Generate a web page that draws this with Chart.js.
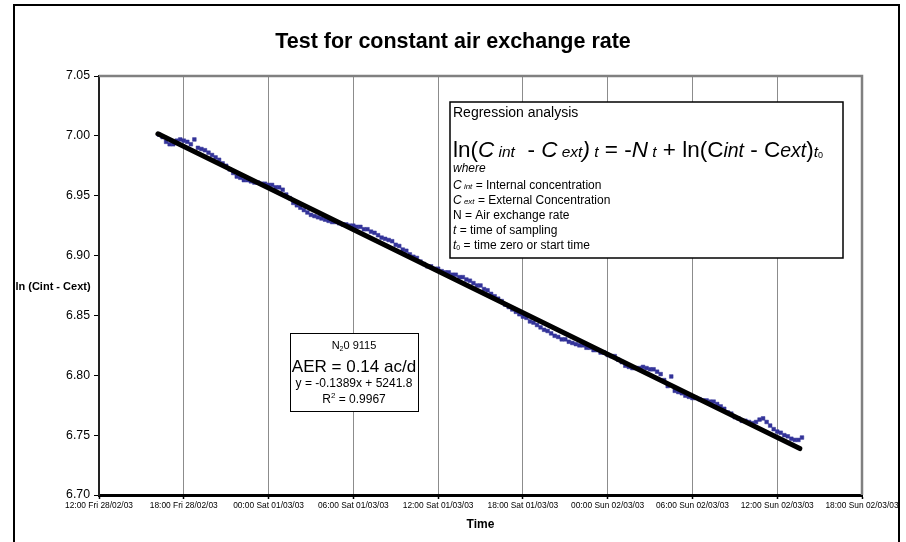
<!DOCTYPE html>
<html>
<head>
<meta charset="utf-8">
<script src="https://cdn.jsdelivr.net/npm/chart.js@4/dist/chart.umd.min.js"></script>
<style>
  html, body { margin: 0; padding: 0; background: #fff; }
  canvas { display: block; }
</style>
</head>
<body>
<canvas id="chart" width="906" height="542"></canvas>
<script>
const FONT = '"Liberation Sans", Arial, Helvetica, sans-serif';

// Time axis: hours after 12:00 Fri 28/02/03, one labelled tick every 6 hours
const xTickLabels = [
  '12:00 Fri 28/02/03', '18:00 Fri 28/02/03', '00:00 Sat 01/03/03', '06:00 Sat 01/03/03',
  '12:00 Sat 01/03/03', '18:00 Sat 01/03/03', '00:00 Sun 02/03/03', '06:00 Sun 02/03/03',
  '12:00 Sun 02/03/03', '18:00 Sun 02/03/03'
];
const xTickStepHours = 6;

// Value axis
const yMin = 6.70;
const yMax = 7.05;
const yStep = 0.05;

// Logger readings: first sample 4.25 h after the axis origin, one every 15 minutes
const sampleStartHour = 4.25;
const sampleIntervalHours = 0.25;
const lnConcentration = [
  7.001, 6.999, 6.995, 6.993, 6.993, 6.996, 6.997, 6.996, 6.995, 6.993, 6.997, 6.990,
  6.989, 6.988, 6.986, 6.984, 6.982, 6.980, 6.977, 6.975, 6.972, 6.969, 6.966, 6.965,
  6.963, 6.963, 6.962, 6.961, 6.961, 6.960, 6.960, 6.959, 6.959, 6.957, 6.957, 6.955,
  6.951, 6.948, 6.944, 6.942, 6.940, 6.938, 6.936, 6.934, 6.933, 6.932, 6.931, 6.930,
  6.929, 6.928, 6.928, 6.927, 6.926, 6.926, 6.925, 6.925, 6.924, 6.924, 6.922, 6.922,
  6.920, 6.919, 6.917, 6.915, 6.914, 6.913, 6.912, 6.909, 6.908, 6.905, 6.904, 6.901,
  6.899, 6.898, 6.895, 6.893, 6.891, 6.891, 6.889, 6.889, 6.887, 6.886, 6.886, 6.884,
  6.884, 6.882, 6.882, 6.880, 6.879, 6.877, 6.875, 6.875, 6.872, 6.871, 6.868, 6.866,
  6.864, 6.862, 6.859, 6.857, 6.855, 6.853, 6.851, 6.849, 6.848, 6.845, 6.844, 6.842,
  6.840, 6.838, 6.837, 6.835, 6.833, 6.832, 6.830, 6.830, 6.828, 6.827, 6.826, 6.825,
  6.825, 6.823, 6.823, 6.821, 6.821, 6.819, 6.819, 6.817, 6.816, 6.816, 6.813, 6.811,
  6.808, 6.807, 6.806, 6.806, 6.806, 6.807, 6.806, 6.805, 6.805, 6.803, 6.801, 6.796,
  6.791, 6.799, 6.787, 6.786, 6.785, 6.783, 6.782, 6.781, 6.781, 6.780, 6.779, 6.779,
  6.778, 6.778, 6.776, 6.774, 6.772, 6.769, 6.768, 6.765, 6.764, 6.762, 6.762, 6.761,
  6.760, 6.761, 6.763, 6.764, 6.761, 6.758, 6.755, 6.753, 6.752, 6.750, 6.749, 6.747,
  6.746, 6.746, 6.748
];

// Fitted trend: slope from the regression label (-0.1389 per day)
const trendSlopePerDay = -0.1389;
const trendStartHour = 4.17;
const trendEndHour = 49.6;
const trendStartValue = 7.0017;

const readings = lnConcentration.map((v, i) => ({ x: sampleStartHour + i * sampleIntervalHours, y: v }));
const trend = [
  { x: trendStartHour, y: trendStartValue },
  { x: trendEndHour, y: trendStartValue + trendSlopePerDay * (trendEndHour - trendStartHour) / 24 }
];

function font(size, style = 'normal', weight = 'normal') {
  return `${style} ${weight} ${size}px ${FONT}`;
}

// Draws a run of differently styled pieces of text one after another
function runsWidth(ctx, runs) {
  let w = 0;
  for (const r of runs) { ctx.font = r.f; w += ctx.measureText(r.t).width; }
  return w;
}
function drawRuns(ctx, x, y, runs) {
  for (const r of runs) {
    ctx.font = r.f;
    ctx.fillText(r.t, x, y + (r.dy || 0));
    x += ctx.measureText(r.t).width;
  }
  return x;
}

const decorations = {
  id: 'decorations',
  beforeDatasetsDraw(chart) {
    const { ctx, chartArea: a } = chart;
    ctx.save();
    // plot-area frame (top and right)
    ctx.strokeStyle = '#808080';
    ctx.lineWidth = 2.5;
    ctx.beginPath();
    ctx.moveTo(a.left, a.top);
    ctx.lineTo(a.right, a.top);
    ctx.lineTo(a.right, a.bottom);
    ctx.stroke();
    ctx.restore();
  },
  afterDraw(chart) {
    const { ctx, chartArea: a } = chart;
    ctx.save();
    ctx.fillStyle = '#000';
    ctx.textBaseline = 'alphabetic';

    // outer chart frame
    ctx.strokeStyle = '#000';
    ctx.lineWidth = 2;
    ctx.strokeRect(14, 5, 885, 560);

    // title
    ctx.textAlign = 'center';
    ctx.textBaseline = 'middle';
    ctx.font = font(21.5, 'normal', 'bold');
    ctx.fillText('Test for constant air exchange rate', 453, 42);

    // axis titles
    ctx.font = font(11, 'normal', 'bold');
    ctx.fillText('ln (Cint - Cext)', 53, 287);
    ctx.font = font(12, 'normal', 'bold');
    ctx.fillText('Time', (a.left + a.right) / 2, 525);

    // regression analysis box
    ctx.textAlign = 'left';
    ctx.textBaseline = 'alphabetic';
    ctx.fillStyle = '#fff';
    ctx.fillRect(450, 102, 393, 156);
    ctx.strokeStyle = '#000';
    ctx.lineWidth = 1.5;
    ctx.strokeRect(450, 102, 393, 156);
    ctx.fillStyle = '#000';
    const L = 453;
    ctx.font = font(14);
    ctx.fillText('Regression analysis', L, 117);
    drawRuns(ctx, L, 157, [
      { t: 'ln(', f: font(22.5) },
      { t: 'C', f: font(22.5, 'italic') },
      { t: ' int', f: font(15.5, 'italic') },
      { t: '  - ', f: font(22.5) },
      { t: 'C', f: font(22.5, 'italic') },
      { t: ' ext', f: font(15.5, 'italic') },
      { t: ')', f: font(22.5, 'italic') },
      { t: ' t', f: font(15.5, 'italic') },
      { t: ' = -', f: font(22.5) },
      { t: 'N', f: font(22.5, 'italic') },
      { t: ' t', f: font(15.5, 'italic') },
      { t: ' + ln(C', f: font(22.5) },
      { t: 'int', f: font(19.5, 'italic') },
      { t: ' - C', f: font(22.5) },
      { t: 'ext', f: font(19.5, 'italic') },
      { t: ')', f: font(22.5) },
      { t: 't', f: font(15.5, 'italic') },
      { t: '0', f: font(9), dy: 1 }
    ]);
    ctx.font = font(12, 'italic');
    ctx.fillText('where', L, 172);
    drawRuns(ctx, L, 189, [
      { t: 'C', f: font(12, 'italic') },
      { t: ' int', f: font(8, 'italic') },
      { t: ' = Internal concentration', f: font(12) }
    ]);
    drawRuns(ctx, L, 204, [
      { t: 'C', f: font(12, 'italic') },
      { t: ' ext', f: font(8, 'italic') },
      { t: ' = External Concentration', f: font(12) }
    ]);
    drawRuns(ctx, L, 219, [{ t: 'N = Air exchange rate', f: font(12) }]);
    drawRuns(ctx, L, 234, [
      { t: 't', f: font(12, 'italic') },
      { t: ' = time of sampling', f: font(12) }
    ]);
    drawRuns(ctx, L, 249, [
      { t: 't', f: font(12, 'italic') },
      { t: '0', f: font(7), dy: 1 },
      { t: ' = time zero or start time', f: font(12) }
    ]);

    // AER summary box
    ctx.fillStyle = '#fff';
    ctx.fillRect(290, 333, 128, 78);
    ctx.strokeStyle = '#000';
    ctx.lineWidth = 1;
    ctx.strokeRect(290.5, 333.5, 128, 78);
    ctx.fillStyle = '#000';
    const cx = 354;
    const centred = (y, runs) => drawRuns(ctx, cx - runsWidth(ctx, runs) / 2, y, runs);
    centred(349, [
      { t: 'N', f: font(11) },
      { t: '2', f: font(7), dy: 2 },
      { t: '0 9115', f: font(11) }
    ]);
    centred(372, [{ t: 'AER = 0.14 ac/d', f: font(17) }]);
    centred(387, [{ t: 'y = -0.1389x + 5241.8', f: font(12) }]);
    centred(403, [
      { t: 'R', f: font(12) },
      { t: '2', f: font(8), dy: -5 },
      { t: ' = 0.9967', f: font(12) }
    ]);
    ctx.restore();
  }
};

new Chart(document.getElementById('chart'), {
  type: 'scatter',
  data: {
    datasets: [
      {
        type: 'line',
        label: 'Linear trend',
        data: trend,
        borderColor: '#000',
        borderWidth: 5,
        borderCapStyle: 'round',
        pointRadius: 0,
        fill: false,
        order: 0
      },
      {
        label: 'ln (Cint - Cext)',
        data: readings,
        showLine: false,
        pointStyle: 'rect',
        pointRadius: 2.6,
        pointBorderWidth: 0.5,
        backgroundColor: '#333399',
        borderColor: '#333399',
        order: 1
      }
    ]
  },
  options: {
    responsive: false,
    animation: false,
    devicePixelRatio: 1,
    layout: { padding: { top: 76, right: 44, left: 0, bottom: 0 } },
    plugins: {
      legend: { display: false },
      title: { display: false },
      tooltip: { enabled: false }
    },
    scales: {
      x: {
        type: 'linear',
        min: 0,
        max: xTickStepHours * (xTickLabels.length - 1),
        afterFit: s => { s.height = 47; },
        ticks: {
          stepSize: xTickStepHours,
          autoSkip: false,
          maxRotation: 0,
          minRotation: 0,
          padding: 2,
          color: '#000',
          font: { family: FONT, size: 8.4 },
          callback: v => xTickLabels[Math.round(v / xTickStepHours)]
        },
        grid: { color: '#8c8c8c', lineWidth: 1, tickLength: 4, tickColor: '#000', tickWidth: 1.5 },
        border: { color: '#000', width: 3 }
      },
      y: {
        min: yMin,
        max: yMax,
        afterFit: s => { s.width = 99; },
        ticks: {
          stepSize: yStep,
          padding: 4,
          color: '#000',
          font: { family: FONT, size: 12.3 },
          callback: v => v.toFixed(2)
        },
        grid: { drawOnChartArea: false, tickLength: 5, tickColor: '#000' },
        border: { color: '#222', width: 2 }
      }
    }
  },
  plugins: [decorations]
});
</script>
</body>
</html>
